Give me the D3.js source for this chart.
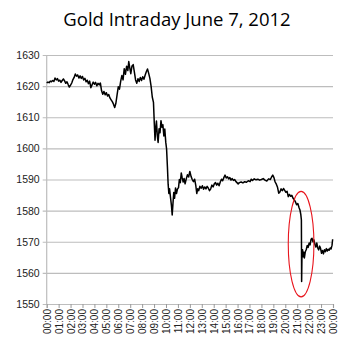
<!DOCTYPE html>
<html><head><meta charset="utf-8">
<script src="https://cdn.jsdelivr.net/npm/d3@7"></script>
<style>body{margin:0;background:#fff}svg{display:block}</style>
</head><body>
<script>
const title = "Gold Intraday June 7, 2012";
// time in hours since 00:00
const hours = [0.00,0.10,0.20,0.30,0.40,0.50,0.60,0.70,0.80,0.90,1.00,1.10,1.20,1.30,1.40,1.50,1.60,1.70,1.80,1.90,2.00,2.10,2.20,2.30,2.40,2.50,2.60,2.70,2.80,2.90,3.00,3.10,3.20,3.30,3.40,3.50,3.60,3.70,3.80,3.90,4.00,4.10,4.20,4.30,4.40,4.50,4.60,4.70,4.80,4.90,5.00,5.10,5.20,5.30,5.40,5.50,5.60,5.70,5.80,5.90,6.00,6.10,6.20,6.30,6.40,6.50,6.60,6.70,6.80,6.88,6.95,7.05,7.15,7.25,7.35,7.45,7.55,7.65,7.75,7.85,7.95,8.05,8.15,8.25,8.35,8.45,8.55,8.65,8.75,8.85,8.95,9.02,9.08,9.14,9.20,9.27,9.34,9.42,9.50,9.58,9.66,9.74,9.82,9.90,9.98,10.05,10.12,10.18,10.24,10.30,10.38,10.46,10.52,10.58,10.65,10.72,10.80,10.88,10.96,11.05,11.12,11.20,11.28,11.36,11.44,11.52,11.60,11.70,11.80,11.90,12.00,12.10,12.20,12.30,12.40,12.50,12.58,12.66,12.74,12.84,12.95,13.05,13.15,13.25,13.35,13.45,13.55,13.65,13.75,13.85,13.95,14.05,14.15,14.25,14.35,14.45,14.55,14.65,14.75,14.85,14.95,15.05,15.15,15.25,15.35,15.45,15.55,15.65,15.75,15.85,15.95,16.05,16.15,16.30,16.45,16.60,16.75,16.90,17.05,17.15,17.25,17.40,17.55,17.70,17.85,18.00,18.15,18.30,18.45,18.60,18.75,18.85,18.95,19.05,19.15,19.25,19.35,19.45,19.55,19.65,19.75,19.85,19.95,20.05,20.15,20.25,20.35,20.45,20.55,20.65,20.75,20.85,20.95,21.05,21.15,21.23,21.30,21.35,21.37,21.40,21.45,21.50,21.55,21.60,21.68,21.76,21.84,21.92,22.00,22.08,22.16,22.24,22.32,22.40,22.48,22.56,22.64,22.72,22.80,22.88,22.96,23.04,23.12,23.20,23.28,23.36,23.44,23.52,23.60,23.68,23.76,23.84,23.92,23.97];
const prices = [1621.0,1621.3,1621.1,1621.6,1621.4,1621.8,1621.5,1622.6,1622.0,1622.4,1621.6,1621.9,1621.2,1621.8,1622.3,1621.7,1620.9,1621.4,1620.5,1619.7,1620.3,1621.0,1622.1,1622.8,1623.9,1623.2,1623.6,1622.6,1623.3,1622.5,1623.1,1622.0,1622.5,1621.4,1621.9,1620.8,1621.6,1619.5,1620.4,1621.3,1620.6,1621.2,1620.1,1620.9,1620.4,1621.0,1618.5,1617.4,1618.3,1617.2,1617.9,1616.8,1617.3,1616.2,1615.6,1615.0,1614.2,1613.1,1614.5,1617.2,1619.8,1619.0,1621.5,1623.4,1622.0,1625.6,1623.8,1626.4,1625.0,1627.9,1626.2,1624.0,1626.5,1626.9,1624.5,1622.0,1620.9,1622.4,1621.5,1622.8,1621.8,1623.0,1622.2,1623.5,1624.6,1625.5,1624.1,1622.5,1620.0,1616.5,1614.8,1608.0,1602.6,1606.5,1608.8,1604.2,1601.9,1606.3,1605.0,1608.9,1606.8,1607.6,1604.0,1606.2,1602.0,1599.8,1594.0,1588.5,1585.5,1587.0,1584.2,1581.5,1578.6,1582.0,1585.8,1584.0,1587.3,1585.5,1586.9,1587.4,1590.0,1589.0,1592.1,1590.5,1589.2,1590.3,1588.6,1590.2,1591.5,1590.8,1592.6,1591.0,1590.0,1589.3,1590.1,1588.0,1585.5,1587.0,1586.4,1587.8,1587.2,1588.0,1586.9,1587.6,1587.0,1587.8,1587.2,1586.4,1587.0,1588.2,1587.6,1588.6,1589.0,1588.2,1588.8,1588.0,1589.2,1590.1,1589.6,1590.6,1591.4,1590.5,1590.9,1590.2,1590.6,1589.8,1590.3,1589.7,1590.0,1589.4,1589.0,1588.6,1589.0,1589.2,1588.9,1589.3,1589.1,1589.6,1589.3,1590.1,1589.7,1590.2,1589.9,1590.1,1589.8,1590.0,1590.3,1589.8,1589.5,1590.2,1590.0,1590.8,1591.4,1590.6,1589.2,1588.5,1587.5,1585.6,1586.0,1587.0,1586.4,1587.1,1586.5,1585.9,1586.2,1584.5,1585.2,1584.6,1584.9,1584.0,1583.5,1582.8,1581.9,1582.3,1581.0,1580.2,1578.8,1577.0,1557.2,1566.0,1567.4,1565.2,1566.6,1564.8,1566.8,1567.5,1568.8,1568.2,1569.6,1569.0,1570.8,1571.1,1570.0,1570.6,1569.2,1568.3,1569.6,1568.0,1567.4,1568.6,1567.8,1566.3,1567.2,1566.1,1567.4,1566.8,1567.8,1567.0,1567.6,1567.3,1568.0,1567.7,1568.9,1570.8];
const yTicks = [1550,1560,1570,1580,1590,1600,1610,1620,1630];
const xTickLabels = ["00:00","01:00","02:00","03:00","04:00","05:00","06:00","07:00","08:00","09:00","10:00","11:00","12:00","13:00","14:00","15:00","16:00","17:00","18:00","19:00","20:00","21:00","22:00","23:00","00:00"];
// highlighted region (hours, price range)
const highlight = {h0: 20.25, h1: 22.40, p0: 1552.3, p1: 1586.2};

const W = 354, H = 362;
const L = 46.7, R = 333, T = 55, B = 304;
const svg = d3.select("body").append("svg").attr("width", W).attr("height", H);
const x = d3.scaleLinear().domain([0, 24]).range([L, R]);
const y = d3.scaleLinear().domain([1550, 1630]).range([B, T]);

svg.append("text").attr("x", 177).attr("y", 26).attr("text-anchor", "middle")
  .attr("font-family", "'Open Sans', sans-serif").attr("font-size", 18.5).attr("fill", "#000").text(title);

// gridlines
const yAxis = d3.axisLeft(y).tickValues(yTicks).tickSize(-(R - L) - 4).tickPadding(7).tickFormat(d3.format("d"));
const gy = svg.append("g").attr("transform", `translate(${L - 4},0)`).call(yAxis);
gy.select(".domain").remove();
gy.selectAll(".tick line").attr("stroke", "#bdbdbd").attr("stroke-width", 1.2);
gy.selectAll(".tick text").attr("font-family", "'Liberation Sans', Arial, sans-serif").attr("font-size", 10.5).attr("fill", "#222").attr("x", -3);

// left axis line
svg.append("line").attr("x1", L).attr("x2", L).attr("y1", T).attr("y2", B).attr("stroke", "#bdbdbd").attr("stroke-width", 1.2);

// bottom axis
const xAxis = d3.axisBottom(x).tickValues(d3.range(xTickLabels.length)).tickSize(4).tickFormat(i => xTickLabels[i]);
const gx = svg.append("g").attr("transform", `translate(0,${B})`).call(xAxis);
gx.select(".domain").attr("stroke", "#bdbdbd").attr("stroke-width", 1.2);
gx.selectAll(".tick line").attr("stroke", "#9a9a9a");
gx.selectAll(".tick text").attr("font-family", "'Liberation Sans', Arial, sans-serif").attr("font-size", 10).attr("fill", "#222")
  .attr("transform", "rotate(-90)").attr("text-anchor", "end").attr("x", -5).attr("y", 0).attr("dy", "0.35em");

// line
const line = d3.line().x((d, i) => x(hours[i])).y(d => y(d));
svg.append("path").datum(prices).attr("d", line).attr("fill", "none").attr("stroke", "#000").attr("stroke-width", 1.5).attr("stroke-linejoin", "round");

// red ellipse
const cx = (x(highlight.h0) + x(highlight.h1)) / 2, cy = (y(highlight.p0) + y(highlight.p1)) / 2;
svg.append("ellipse").attr("cx", cx).attr("cy", cy)
  .attr("rx", (x(highlight.h1) - x(highlight.h0)) / 2).attr("ry", (y(highlight.p0) - y(highlight.p1)) / 2)
  .attr("fill", "none").attr("stroke", "#e8141c").attr("stroke-width", 1.1);
</script>
</body></html>
